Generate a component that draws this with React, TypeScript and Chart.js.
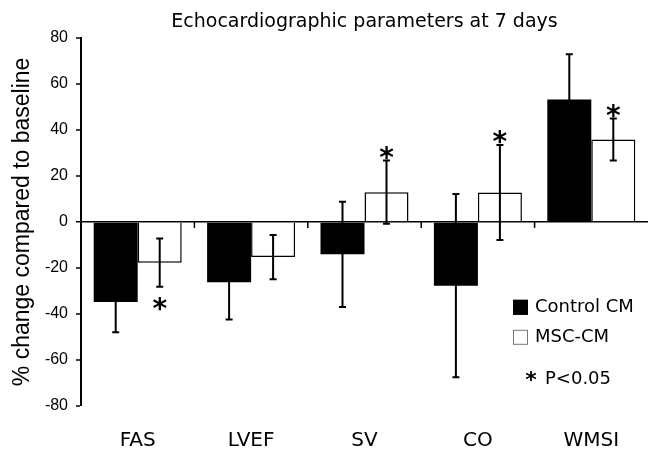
import React, { useEffect, useRef } from "react";
import { Chart, registerables } from "chart.js";

Chart.register(...registerables);

const categories = ["FAS", "LVEF", "SV", "CO", "WMSI"];
const controlValues = [-34.8, -26.2, -14.1, -27.7, 53.2];
const controlErrors = [13.2, 16.2, 22.9, 39.8, 19.6];
const mscValues = [-17.7, -15.3, 12.9, 12.8, 35.8];
const mscErrors = [10.45, 9.65, 13.75, 20.65, 9.1];
const mscSignificance = ["below", null, "above", "above", "above"];
const yTicks = [-80, -60, -40, -20, 0, 20, 40, 60, 80];
const seriesNames = ["Control CM", "MSC-CM"];
const titleText = "Echocardiographic parameters at 7 days";
const yTitle = "% change compared to baseline";
const sigNote = "P<0.05";

const errorsByDataset = [controlErrors, mscErrors];
const LUCIDA = "'DejaVu Sans', 'Noto Sans', sans-serif";
const ARIAL = "'Liberation Sans', Arial, sans-serif";

function drawAsterisk(ctx: CanvasRenderingContext2D, x: number, cy: number, size: number) {
  ctx.save();
  ctx.font = `bold ${size}px ${LUCIDA}`;
  ctx.textAlign = "center";
  ctx.textBaseline = "alphabetic";
  const m = ctx.measureText("*");
  const asc = m.actualBoundingBoxAscent;
  const desc = m.actualBoundingBoxDescent;
  ctx.fillStyle = "#000";
  ctx.fillText("*", x, cy + (asc - desc) / 2);
  ctx.restore();
}

const decorPlugin = {
  id: "decor",
  afterDatasetsDraw(chart: any) {
    const ctx: CanvasRenderingContext2D = chart.ctx;
    const yScale = chart.scales.y;
    const xScale = chart.scales.x;
    const area = chart.chartArea;
    ctx.save();
    // category boundary ticks on the zero line
    const y0 = yScale.getPixelForValue(0);
    ctx.strokeStyle = "#000";
    ctx.lineWidth = 1.5;
    for (let i = 1; i < categories.length; i++) {
      const bx = (xScale.getPixelForValue(i - 1) + xScale.getPixelForValue(i)) / 2;
      ctx.beginPath();
      ctx.moveTo(bx, y0);
      ctx.lineTo(bx, y0 + 6);
      ctx.stroke();
    }
    // error bars
    ctx.lineWidth = 2;
    errorsByDataset.forEach((errs, di) => {
      const meta = chart.getDatasetMeta(di);
      const vals = chart.data.datasets[di].data as number[];
      meta.data.forEach((el: any, j: number) => {
        const x = el.x;
        const yHi = yScale.getPixelForValue(vals[j] + errs[j]);
        const yLo = yScale.getPixelForValue(vals[j] - errs[j]);
        ctx.beginPath();
        ctx.moveTo(x, yHi);
        ctx.lineTo(x, yLo);
        ctx.moveTo(x - 3.5, yHi);
        ctx.lineTo(x + 3.5, yHi);
        ctx.moveTo(x - 3.5, yLo);
        ctx.lineTo(x + 3.5, yLo);
        ctx.stroke();
      });
    });
    // significance asterisks
    const metaM = chart.getDatasetMeta(1);
    mscSignificance.forEach((s, j) => {
      if (!s) return;
      const x = metaM.data[j].x;
      if (s === "above") {
        const y = yScale.getPixelForValue(mscValues[j] + mscErrors[j]);
        drawAsterisk(ctx, x, y - 8, 28);
      } else {
        const y = yScale.getPixelForValue(mscValues[j] - mscErrors[j]);
        drawAsterisk(ctx, x, y + 17, 28);
      }
    });
    // legend
    const lx = area.right - 135;
    const ly = area.top + 262;
    const fills = ["#000", "#fff"];
    ctx.font = `18px ${LUCIDA}`;
    ctx.textBaseline = "middle";
    ctx.textAlign = "left";
    seriesNames.forEach((name, i) => {
      const sy = ly + i * 30;
      ctx.fillStyle = fills[i];
      ctx.fillRect(lx, sy, 15, 15);
      ctx.strokeStyle = i === 0 ? "#000" : "#777";
      ctx.lineWidth = 1;
      ctx.strokeRect(lx + 0.5, sy + 0.5, 14, 14);
      ctx.fillStyle = "#000";
      ctx.fillText(name, lx + 22, sy + 8);
    });
    drawAsterisk(ctx, lx + 18, ly + 76, 22);
    ctx.font = `18px ${LUCIDA}`;
    ctx.fillStyle = "#000";
    ctx.textBaseline = "middle";
    ctx.fillText(sigNote, lx + 32, ly + 80);
    ctx.restore();
  },
};

export default function App() {
  const ref = useRef<HTMLCanvasElement | null>(null);
  useEffect(() => {
    if (!ref.current) return;
    const chart = new Chart(ref.current, {
      type: "bar",
      data: {
        labels: categories,
        datasets: [
          {
            label: seriesNames[0],
            data: controlValues,
            backgroundColor: "#000",
            borderColor: "#000",
            borderWidth: 0,
            categoryPercentage: 0.776,
            barPercentage: 1,
          },
          {
            label: seriesNames[1],
            data: mscValues,
            backgroundColor: "#fff",
            borderColor: "#000",
            borderWidth: 1.5,
            categoryPercentage: 0.776,
            barPercentage: 1,
          },
        ],
      },
      options: {
        responsive: false,
        animation: false,
        layout: { padding: { left: 0, right: 4, top: 0, bottom: 0 } },
        plugins: {
          legend: { display: false },
          tooltip: { enabled: false },
          title: {
            display: true,
            text: titleText,
            fullSize: false,
            color: "#000",
            font: { family: LUCIDA, size: 19, weight: "normal" },
            padding: { top: 11, bottom: 4 },
          },
        },
        scales: {
          x: {
            grid: { display: false },
            border: { display: false },
            ticks: {
              color: "#000",
              font: { family: LUCIDA, size: 20 },
              padding: 15,
            },
            afterFit: (s: any) => {
              s.height = 44;
            },
          },
          y: {
            min: -80,
            max: 80,
            afterBuildTicks: (s: any) => {
              s.ticks = yTicks.map((v) => ({ value: v }));
            },
            grid: {
              drawOnChartArea: true,
              color: (c: any) => (c.tick && c.tick.value === 0 ? "#000" : "rgba(0,0,0,0)"),
              lineWidth: (c: any) => (c.tick && c.tick.value === 0 ? 1.5 : 0),
              tickColor: "#000",
              tickLength: 5,
              tickWidth: 1.5,
            },
            border: { display: true, color: "#000", width: 2 },
            ticks: {
              color: "#000",
              font: { family: ARIAL, size: 16 },
              padding: 8,
            },
            title: {
              display: true,
              text: yTitle,
              color: "#000",
              font: { family: ARIAL, size: 23 },
              padding: { top: 9, bottom: 0 },
            },
            afterFit: (s: any) => {
              s.width = 81;
            },
          },
        },
      },
      plugins: [decorPlugin],
    });
    return () => chart.destroy();
  }, []);
  return (
    <div style={{ position: "fixed", left: 0, top: 0, width: 652, height: 450, background: "#fff" }}>
      <canvas ref={ref} width={652} height={450} style={{ display: "block" }} />
    </div>
  );
}
